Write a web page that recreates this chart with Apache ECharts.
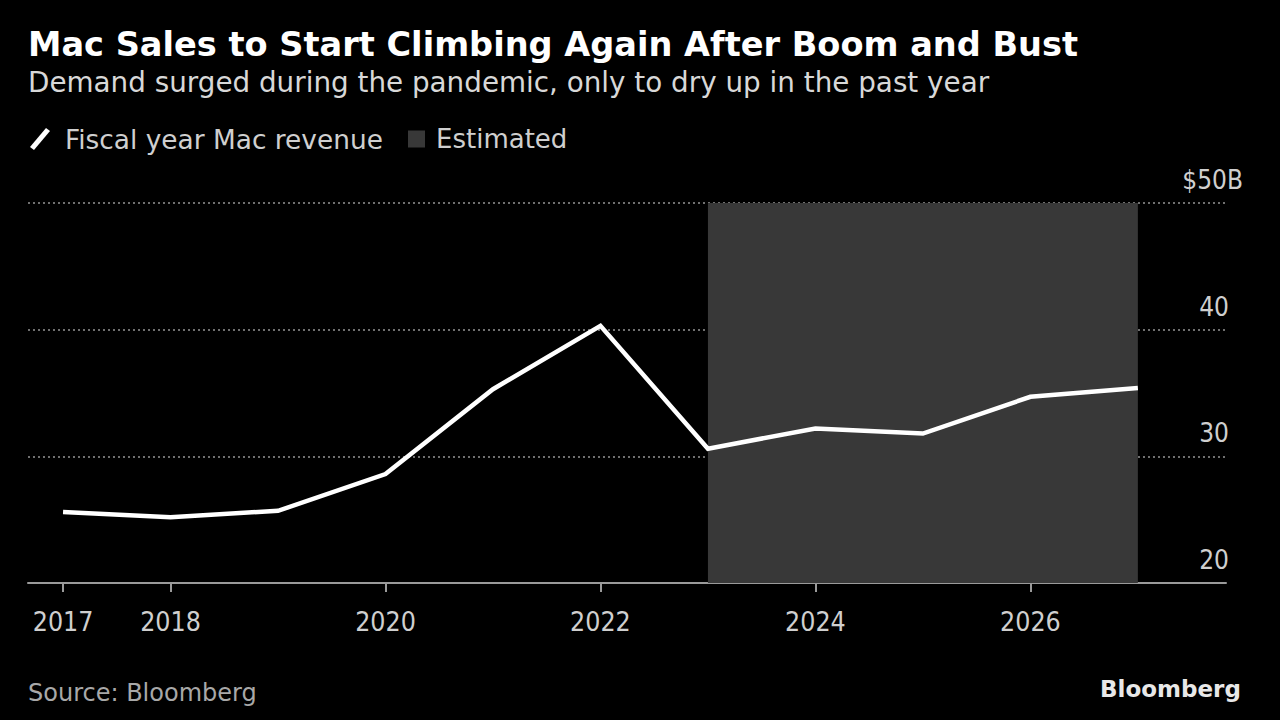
<!DOCTYPE html>
<html>
<head>
<meta charset="utf-8">
<script src="https://cdn.jsdelivr.net/npm/echarts@6/dist/echarts.min.js"></script>
<style>
  html, body { margin: 0; padding: 0; background: #000; }
  #chart { width: 1280px; height: 720px; }
</style>
</head>
<body>
<div id="chart"></div>
<script>
// ---- Data ----
var years = [2017, 2018, 2019, 2020, 2021, 2022, 2023, 2024, 2025, 2026, 2027];
var macRevenue = [25.6, 25.2, 25.7, 28.6, 35.3, 40.3, 30.6, 32.2, 31.8, 34.7, 35.4];
var estimatedRange = [2023, 2027];
var xTickLabels = [2017, 2018, 2020, 2022, 2024, 2026];
var yTickValues = [20, 30, 40, 50];

var titleText = 'Mac Sales to Start Climbing Again After Boom and Bust';
var subtitleText = 'Demand surged during the pandemic, only to dry up in the past year';
var seriesName = 'Fiscal year Mac revenue';
var estName = 'Estimated';

var condensed = "'DejaVu Sans Condensed', 'DejaVu Sans', sans-serif";
var regular = "'DejaVu Sans', sans-serif";

var lineData = years.map(function (y, i) { return [y, macRevenue[i]]; });

var chart = echarts.init(document.getElementById('chart'), null, { renderer: 'svg' });
chart.setOption({
  backgroundColor: '#000',
  animation: false,
  graphic: [
    { type: 'text', left: 28, top: 27, style: { text: titleText, fill: '#ffffff', font: 'bold 33.6px ' + regular } },
    { type: 'text', left: 28, top: 68, style: { text: subtitleText, fill: '#d8d8d8', font: '27.8px ' + regular } },
    { type: 'text', left: 28, top: 681, style: { text: 'Source: Bloomberg', fill: '#a8a8a8', font: '24px ' + regular } },
    { type: 'text', left: 1100, top: 677, style: { text: 'Bloomberg', fill: '#e8e8e8', font: 'bold 23px ' + regular } }
  ],
  legend: [
    {
      data: [seriesName], left: 25, top: 121, itemWidth: 20, itemHeight: 22,
      icon: 'path://M0,19 L16,0 L20,3 L4,22 Z',
      textStyle: { color: '#cfcfcf', fontSize: 26.4, fontFamily: regular, padding: [0, 0, 0, 10] },
      selectedMode: false
    },
    {
      data: [estName], left: 403, top: 121, itemWidth: 17, itemHeight: 17, icon: 'rect',
      textStyle: { color: '#cfcfcf', fontSize: 26, fontFamily: regular, padding: [0, 0, 0, 6] },
      selectedMode: false
    }
  ],
  grid: { left: 28, right: 54, top: 203, bottom: 137, containLabel: false },
  xAxis: {
    type: 'value', min: 2016.674, max: 2027.82,
    splitLine: { show: false },
    axisLine: { lineStyle: { color: '#9a9a9a', width: 2 } },
    axisTick: { show: true, length: 9, customValues: xTickLabels, lineStyle: { color: '#9a9a9a', width: 2 } },
    axisLabel: { customValues: xTickLabels, color: '#cfcfcf', fontSize: 26.5, fontFamily: condensed, margin: 25,
      formatter: function (v) { return String(Math.round(v)); } }
  },
  yAxis: {
    type: 'value', position: 'right', min: 20, max: 50, interval: 10,
    axisLine: { show: false }, axisTick: { show: false },
    splitLine: { lineStyle: { color: '#707070', width: 2, type: [2, 3] } },
    axisLabel: {
      inside: true, margin: -17, verticalAlign: 'bottom', color: '#cfcfcf', fontSize: 26, fontFamily: condensed,
      formatter: function (v) { return v === 50 ? '{a|$50B}' : '{n|' + v + '}'; },
      rich: {
        a: { color: '#cfcfcf', fontSize: 26, fontFamily: condensed, padding: [0, 0, 10, 0] },
        n: { color: '#cfcfcf', fontSize: 26, fontFamily: condensed, padding: [0, 14, 10, 0] }
      }
    }
  },
  series: [
    {
      name: estName, type: 'line', data: [], z: 1,
      itemStyle: { color: '#383838' }, lineStyle: { color: '#383838' },
      markArea: {
        silent: true,
        itemStyle: { color: '#383838' },
        data: [[{ xAxis: estimatedRange[0] }, { xAxis: estimatedRange[1] }]]
      }
    },
    {
      name: seriesName, type: 'line', data: lineData, z: 5,
      symbol: 'none', color: '#ffffff',
      lineStyle: { color: '#ffffff', width: 4.5, join: 'miter' }
    }
  ]
});
</script>
</body>
</html>
